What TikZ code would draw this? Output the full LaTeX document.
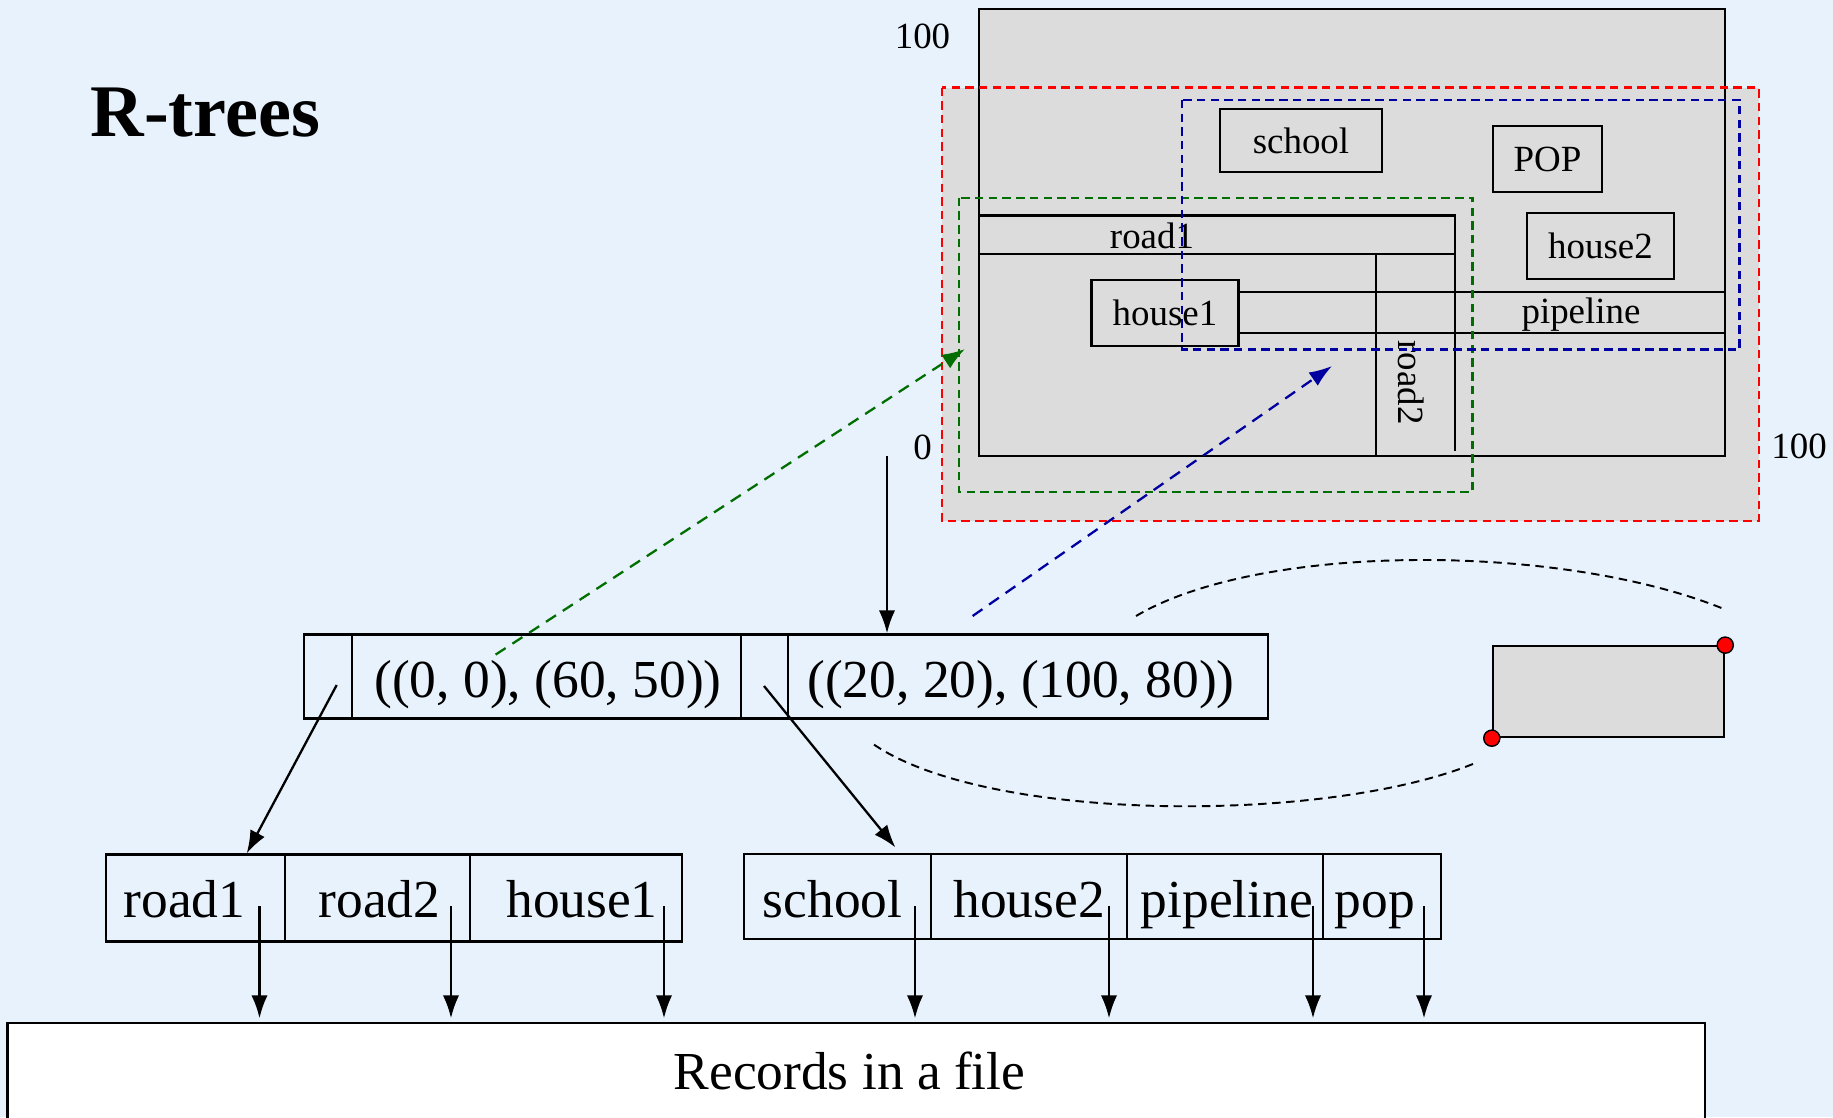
\documentclass[tikz,border=0pt]{standalone}
\usepackage{fontspec}
\setmainfont{Liberation Serif}
\usetikzlibrary{arrows.meta}
\definecolor{slidebg}{RGB}{232,242,252}
\definecolor{mapgray}{RGB}{220,220,220}
\definecolor{mbrgreen}{RGB}{0,110,0}
\definecolor{mbrblue}{RGB}{0,0,160}

\begin{document}
\begin{tikzpicture}[x=0.01cm, y=-0.01cm,
  box/.style={draw, line width=0.65pt, inner sep=0pt},
  ptr/.style={-{Latex[length=6.5pt,width=4.6pt]}, line width=0.65pt},
  mbr/.style={dash pattern=on 2.4pt off 1.5pt, line width=0.65pt},
  lbl/.style={font=\fontsize{10.5}{12}\selectfont, inner sep=0pt},
  txt/.style={font=\fontsize{15.2}{18}\selectfont, inner sep=0pt, anchor=base}]

  % Background
  \fill[slidebg] (0,0) rectangle (1833,1117);
  \useasboundingbox (0,0) rectangle (1833,1117);

  % Title
  \node[anchor=base west, inner sep=0pt, font=\fontsize{21.1}{24}\bfseries\selectfont] (title) at (90,136) {R-trees};

  % Data space
  \fill[mapgray] (942,87.5) rectangle (1759,520.7);
  \node[box, fill=mapgray, minimum width=7.46cm, minimum height=4.463cm] (space) at (1352,232.45) {};
  \node[lbl] (ymax) at (922.5,36) {100};
  \node[lbl] (orig) at (922.5,447.7) {0};
  \node[lbl] (xmax) at (1799,446) {100};

  % Objects
  \node[box, lbl, minimum width=1.62cm, minimum height=0.63cm] (school) at (1301,140.5) {school};
  \node[box, lbl, minimum width=1.09cm, minimum height=0.66cm] (popbox) at (1547.5,159) {POP};
  \node[box, lbl, minimum width=1.47cm, minimum height=0.66cm] (house2) at (1600.5,246) {house2};
  \node[box, lbl, minimum width=1.47cm, minimum height=0.66cm] (house1) at (1165,313) {house1};
  \draw[line width=0.65pt] (979,215.6) -- (1455,215.6) -- (1455,450.5);
  \draw[line width=0.65pt] (979,253.8) -- (1455,253.8);
  \draw[line width=0.65pt] (1376,253.8) -- (1376,455.6);
  \draw[line width=0.65pt] (house1.east |- 0,291.7) -- (space.east |- 0,291.7);
  \draw[line width=0.65pt] (house1.east |- 0,333) -- (space.east |- 0,333);
  \node[lbl, anchor=base] (road1) at (1152,248) {road1};
  \node[lbl, anchor=base, rotate=-90] (road2) at (1398,382.5) {road2};
  \node[lbl, anchor=base] (pipe) at (1581,323) {pipeline};

  % Bounding rectangles
  \draw[mbr, red] (942,87.5) rectangle (1759,520.7);
  \draw[mbr, mbrgreen] (959,197.7) rectangle (1472.6,491.8);
  \draw[mbr, mbrblue] (1182,99.9) rectangle (1739.4,349.6);

  % Root node
  \node[box, minimum width=0.48cm, minimum height=0.84cm] (m0) at (328,676.5) {};
  \node[box, minimum width=3.89cm, minimum height=0.84cm] (m1) at (546.5,676.5) {};
  \node[box, minimum width=0.47cm, minimum height=0.84cm] (m2) at (764.5,676.5) {};
  \node[box, minimum width=4.80cm, minimum height=0.84cm] (m3) at (1028,676.5) {};
  \node[txt] (t1) at (548,697) {((0, 0), (60, 50))};
  \node[txt] (t2) at (1021,697) {((20, 20), (100, 80))};

  % Leaf nodes
  \node[box, minimum width=1.79cm, minimum height=0.87cm] (a1) at (195.5,898) {};
  \node[box, minimum width=1.85cm, minimum height=0.87cm] (a2) at (377.5,898) {};
  \node[box, minimum width=2.12cm, minimum height=0.87cm] (a3) at (576,898) {};
  \node[txt] at (184.5,917) {road1};
  \node[txt] at (379.5,917) {road2};
  \node[txt] at (582,917) {house1};
  \node[box, minimum width=1.87cm, minimum height=0.85cm] (b1) at (837.5,896.5) {};
  \node[box, minimum width=1.96cm, minimum height=0.85cm] (b2) at (1029,896.5) {};
  \node[box, minimum width=1.96cm, minimum height=0.85cm] (b3) at (1225,896.5) {};
  \node[box, minimum width=1.18cm, minimum height=0.85cm] (b4) at (1382,896.5) {};
  \node[txt] at (832.7,917) {school};
  \node[txt] at (1029,917) {house2};
  \node[txt] at (1227,917) {pipeline};
  \node[txt] at (1374.8,917) {pop};

  % File
  \node[box, fill=white, minimum width=16.965cm, minimum height=1.10cm] (rec) at (856.25,1078) {};
  \node[txt] (rect) at (849.5,1089) {Records in a file};

  % Pointers
  \coordinate (drop) at (887,456);
  \draw[ptr] (drop) -- (drop |- m3.north);
  \coordinate (p0) at (336.7,685);
  \coordinate (a1top) at (246.7,853.4);
  \draw[ptr] (p0) -- (a1top);
  \coordinate (p2) at (764,686);
  \coordinate (b1top) at (895.5,847.5);
  \draw[ptr] (p2) -- (b1top);
  \foreach \x in {259.5,451,664,915,1109,1313,1424}
    \draw[ptr, shorten >=1pt] (\x,906) -- (\x,906 |- rec.north);

  % Entries to their rectangles
  \coordinate (g0) at (495.6,654.6);
  \coordinate (g1) at (965,349);
  \draw[ptr, mbrgreen, dash pattern=on 3.4pt off 2.3pt] (g0) -- (g1);
  \coordinate (u0) at (972.6,616);
  \coordinate (u1) at (1332,366);
  \draw[ptr, mbrblue, dash pattern=on 3.4pt off 2.3pt] (u0) -- (u1);

  % Rectangle from two corners
  \node[box, fill=mapgray, minimum width=2.31cm, minimum height=0.907cm] (corner) at (1608.5,691.65) {};
  \draw[dash pattern=on 2.4pt off 1.6pt, line width=0.55pt] (1136,616) .. controls (1260,542.5) and (1560,542.5) .. (1724,609);
  \draw[dash pattern=on 2.4pt off 1.6pt, line width=0.55pt] (874,744.6) .. controls (990,823.5) and (1330,823.5) .. (1476,762.7);
  \filldraw[fill=red, draw=black, line width=0.4pt] (corner.south west) circle (2.3pt);
  \filldraw[fill=red, draw=black, line width=0.4pt] (corner.north east) circle (2.3pt);
\end{tikzpicture}
\end{document}
